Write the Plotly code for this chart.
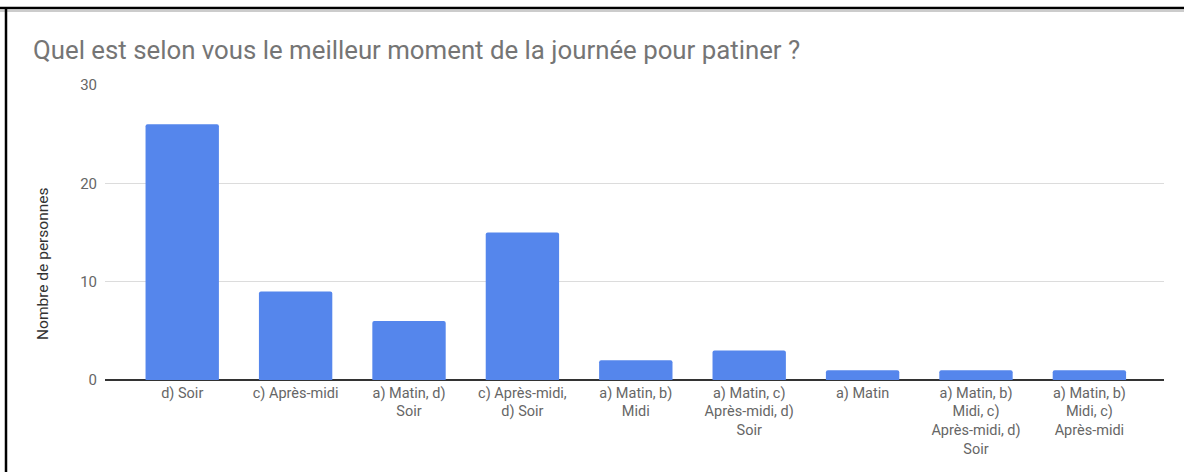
import plotly.graph_objects as go

categories = [
    "d) Soir",
    "c) Après-midi",
    "a) Matin, d)<br>Soir",
    "c) Après-midi,<br>d) Soir",
    "a) Matin, b)<br>Midi",
    "a) Matin, c)<br>Après-midi, d)<br>Soir",
    "a) Matin",
    "a) Matin, b)<br>Midi, c)<br>Après-midi, d)<br>Soir",
    "a) Matin, b)<br>Midi, c)<br>Après-midi",
]
values = [26, 9, 6, 15, 2, 3, 1, 1, 1]
y_ticks = [0, 10, 20, 30]

W, H = 1184, 472
L, R, T, B = 105, 20, 85, 92
pw, ph = W - L - R, H - T - B

def px(x):
    return (x - L) / pw

def py(y):
    return (H - B - y) / ph

FONT = "Roboto, Arial, sans-serif"
xs = list(range(len(categories)))

fig = go.Figure(go.Bar(
    x=xs, y=values,
    marker=dict(color="#5586EC", line=dict(width=0), cornerradius=2),
    width=0.647,
))

fig.update_layout(
    width=W, height=H,
    margin=dict(l=L, r=R, t=T, b=B),
    plot_bgcolor="white", paper_bgcolor="white",
    font=dict(family=FONT, color="#666666"),
    showlegend=False,
    title=dict(
        text="Quel est selon vous le meilleur moment de la journée pour patiner ?",
        x=33 / W, xanchor="left", xref="container",
        y=1 - 50 / H, yanchor="middle", yref="container",
        font=dict(size=25.8, color="#757575", family=FONT),
    ),
)

fig.update_xaxes(
    tickmode="array", tickvals=xs, ticktext=categories,
    range=[-0.681, 8.658],
    showgrid=False, zeroline=False, showline=False,
    ticks="", fixedrange=True,
    tickfont=dict(size=14.5, color="#666666", family=FONT),
    ticklabelstandoff=2,
)
fig.update_yaxes(
    range=[0, 30], tickvals=y_ticks,
    showgrid=True, gridcolor="#DCDCDC", gridwidth=1,
    zeroline=True, zerolinecolor="#333333", zerolinewidth=1.5,
    showline=False, ticks="",
    tickfont=dict(size=15, color="#666666"),
    ticklabelstandoff=7,
)

fig.add_annotation(
    text="Nombre de personnes", textangle=-90,
    xref="paper", yref="paper", x=px(43), y=py(264),
    showarrow=False, xanchor="center", yanchor="middle",
    font=dict(size=15.5, color="#333333", family=FONT),
)

# screenshot frame
fig.add_shape(type="line", xref="paper", yref="paper",
              x0=px(0), x1=px(W), y0=py(8), y1=py(8),
              line=dict(color="black", width=2.5))
fig.add_shape(type="line", xref="paper", yref="paper",
              x0=px(0), x1=px(W), y0=py(11), y1=py(11),
              line=dict(color="#BBBBBB", width=1.5))
fig.add_shape(type="line", xref="paper", yref="paper",
              x0=px(6), x1=px(6), y0=py(7), y1=py(H),
              line=dict(color="black", width=2.5))

fig.write_html("out.html", config={"displayModeBar": False},
               post_script="document.body.style.margin='0';")
